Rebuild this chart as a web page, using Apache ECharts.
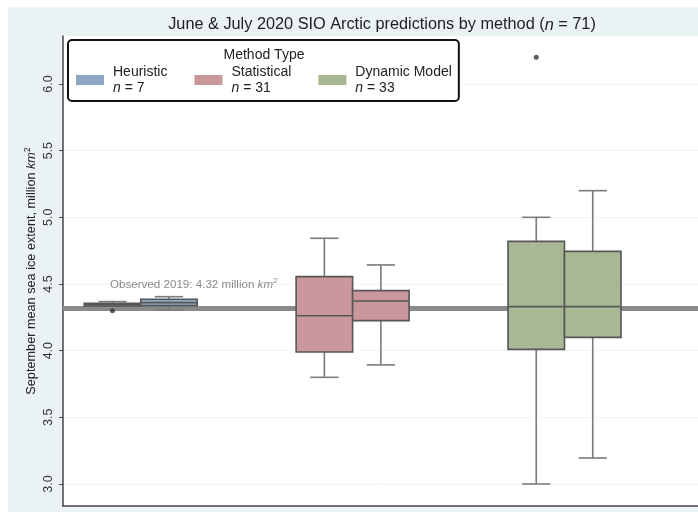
<!DOCTYPE html>
<html>
<head>
<meta charset="utf-8">
<script src="https://cdn.jsdelivr.net/npm/echarts@6/dist/echarts.min.js"></script>
<style>
  html, body { margin: 0; padding: 0; background: #fff; }
  #chart { width: 698px; height: 512px; }
</style>
</head>
<body>
<div id="chart"></div>
<script>
// Forecast groups and number of submissions in each
const methods = ['Heuristic', 'Statistical', 'Dynamic Model'];
const methodCounts = [7, 31, 33];
const months = ['June', 'July'];

// Five-number summaries per method: [lower whisker, Q1, median, Q3, upper whisker] (million km²)
const juneStats = [
  [4.335, 4.335, 4.345, 4.355, 4.368],
  [3.80, 3.99, 4.262, 4.555, 4.843],
  [3.00, 4.01, 4.33, 4.82, 5.00]
];
const julyStats = [
  [4.305, 4.338, 4.36, 4.386, 4.405],
  [3.893, 4.225, 4.373, 4.45, 4.643],
  [3.195, 4.10, 4.33, 4.745, 5.20]
];

// Points beyond the whiskers: [method index, month index, extent]
const outsideValues = [
  [0, 0, 4.30],
  [2, 0, 6.20]
];

// Observed September 2019 extent
const observed2019 = 4.32;

// Value-axis ticks
const yTickValues = [3.0, 3.5, 4.0, 4.5, 5.0, 5.5, 6.0];

// ---- presentation ----
const FONT = 'Liberation Sans, Arial, sans-serif';
const fills = ['#8ea6c1', '#c9979c', '#a9b894'];
const GROUP_STEP = 3.75;   // distance between method groups, in box widths
const BOX_WIDTH = 1;
const CAP_WIDTH = 0.5;
const xPos = (methodIdx, monthIdx) => methodIdx * GROUP_STEP + monthIdx;
const totalCount = methodCounts.reduce((a, b) => a + b, 0);

function renderBox(params, api) {
  const x = api.value(0);
  const lo = api.value(1), q1 = api.value(2), med = api.value(3), q3 = api.value(4), hi = api.value(5);
  const half = BOX_WIDTH / 2, cap = CAP_WIDTH / 2;
  const pt = (dx, v) => api.coord([x + dx, v]);
  const seg = (a, b, style) => ({
    type: 'line',
    shape: { x1: a[0], y1: a[1], x2: b[0], y2: b[1] },
    style: style
  });
  const whisker = { stroke: '#7b7b7b', lineWidth: 1.6 };
  const edge = { stroke: '#575757', lineWidth: 1.6 };
  const tl = pt(-half, q3), br = pt(half, q1);
  return {
    type: 'group',
    children: [
      seg(pt(0, hi), pt(0, q3), whisker),
      seg(pt(0, q1), pt(0, lo), whisker),
      seg(pt(-cap, hi), pt(cap, hi), whisker),
      seg(pt(-cap, lo), pt(cap, lo), whisker),
      {
        type: 'rect',
        shape: { x: tl[0], y: tl[1], width: br[0] - tl[0], height: br[1] - tl[1] },
        style: { fill: api.visual('color'), stroke: '#575757', lineWidth: 1.6 }
      },
      seg(pt(-half, med), pt(half, med), edge)
    ]
  };
}

const boxSeries = methods.map((name, i) => ({
  type: 'custom',
  name: name,
  z: 3,
  itemStyle: { color: fills[i] },
  encode: { x: 0, y: [1, 2, 3, 4, 5] },
  data: [juneStats[i], julyStats[i]].map((s, m) => [xPos(i, m)].concat(s)),
  renderItem: renderBox
}));

const outsideSeries = {
  type: 'scatter',
  name: 'outside',
  z: 4,
  symbolSize: 5,
  itemStyle: { color: '#333' },
  data: outsideValues.map(o => [xPos(o[0], o[1]), o[2]]),
  markLine: {
    z: 1,
    silent: true,
    symbol: ['none', 'none'],
    lineStyle: { color: '#8a8a8a', width: 5, type: 'solid' },
    label: {
      position: 'insideStartTop',
      distance: [47, 16],
      formatter: () => '{a|Observed 2019: ' + observed2019.toFixed(2) + ' million }{i|km}{s|2}',
      rich: {
        a: { fontFamily: FONT, fontSize: 11.6, color: '#8a8a8a' },
        i: { fontFamily: FONT, fontSize: 11.6, color: '#8a8a8a', fontStyle: 'italic' },
        s: { fontFamily: FONT, fontSize: 8, color: '#8a8a8a', verticalAlign: 'top', padding: [0, 0, 7, 0] }
      }
    },
    data: [{ yAxis: observed2019 }]
  }
};

const chart = echarts.init(document.getElementById('chart'), null, { renderer: 'canvas' });
chart.setOption({
  animation: false,
  backgroundColor: '#fff',
  title: {
    left: 382,
    top: 17,
    textAlign: 'center',
    padding: 0,
    text: '{a|June & July 2020 SIO Arctic predictions by method (}{i|n}{a| = ' + totalCount + ')}',
    textStyle: {
      fontWeight: 'normal',
      rich: {
        a: { fontFamily: FONT, fontSize: 16.3, fontWeight: 'normal', color: '#222' },
        i: { fontFamily: FONT, fontSize: 16.3, fontWeight: 'normal', color: '#222', fontStyle: 'italic' }
      }
    }
  },
  graphic: [
    {
      type: 'rect', z: -10, silent: true,
      shape: { x: 8, y: 7, width: 690, height: 505 },
      style: { fill: '#eaf2f3' }
    },
    {
      type: 'text', z: 100, silent: true,
      x: 264, y: 55,
      style: { text: 'Method Type', fontFamily: FONT, fontSize: 14, fill: '#222', align: 'center', verticalAlign: 'middle' }
    }
  ],
  legend: {
    data: methods,
    left: 68,
    top: 40,
    padding: [25, 7, 6, 8],
    itemGap: 27,
    itemWidth: 28,
    itemHeight: 10,
    icon: 'rect',
    backgroundColor: '#fff',
    borderColor: '#111',
    borderWidth: 2,
    borderRadius: 4,
    selectedMode: false,
    formatter: name => {
      const n = methodCounts[methods.indexOf(name)];
      return '{h|' + name + '}\n{n|n}{a| = ' + n + '}';
    },
    textStyle: {
      rich: {
        h: { fontFamily: FONT, fontSize: 14, color: '#222', lineHeight: 16, padding: [0, 0, 0, 4] },
        n: { fontFamily: FONT, fontSize: 14, color: '#222', lineHeight: 16, fontStyle: 'italic', padding: [0, 0, 0, 4] },
        a: { fontFamily: FONT, fontSize: 14, color: '#222', lineHeight: 16 }
      }
    }
  },
  grid: {
    left: 63, right: 0, top: 36, bottom: 6,
    show: true, backgroundColor: '#fff', borderWidth: 0
  },
  xAxis: {
    type: 'value',
    min: -0.876,
    max: 10.363,
    axisLine: { show: true, onZero: false, lineStyle: { color: '#444', width: 1.5 } },
    axisTick: { show: false },
    axisLabel: { show: false },
    splitLine: { show: false }
  },
  yAxis: {
    type: 'value',
    min: 2.835,
    max: 6.36,
    name: '{a|September mean sea ice extent, million }{i|km}{s|2}',
    nameLocation: 'middle',
    nameRotate: 90,
    nameGap: 24,
    nameMoveOverlap: false,
    nameTextStyle: {
      rich: {
        a: { fontFamily: FONT, fontSize: 12.7, color: '#222' },
        i: { fontFamily: FONT, fontSize: 12.7, color: '#222', fontStyle: 'italic' },
        s: { fontFamily: FONT, fontSize: 8.5, color: '#222', verticalAlign: 'top', padding: [0, 0, 7, 0] }
      }
    },
    axisLine: { show: true, onZero: false, lineStyle: { color: '#444', width: 1.5 } },
    axisTick: { show: true, length: 4, customValues: yTickValues, lineStyle: { color: '#444' } },
    axisLabel: {
      customValues: yTickValues,
      rotate: 90,
      margin: 8,
      fontFamily: FONT,
      fontSize: 12.5,
      color: '#333',
      formatter: v => v.toFixed(1)
    },
    splitLine: { show: true, lineStyle: { color: '#eef6f6', width: 1 } }
  },
  series: boxSeries.concat([outsideSeries])
});
</script>
</body>
</html>
